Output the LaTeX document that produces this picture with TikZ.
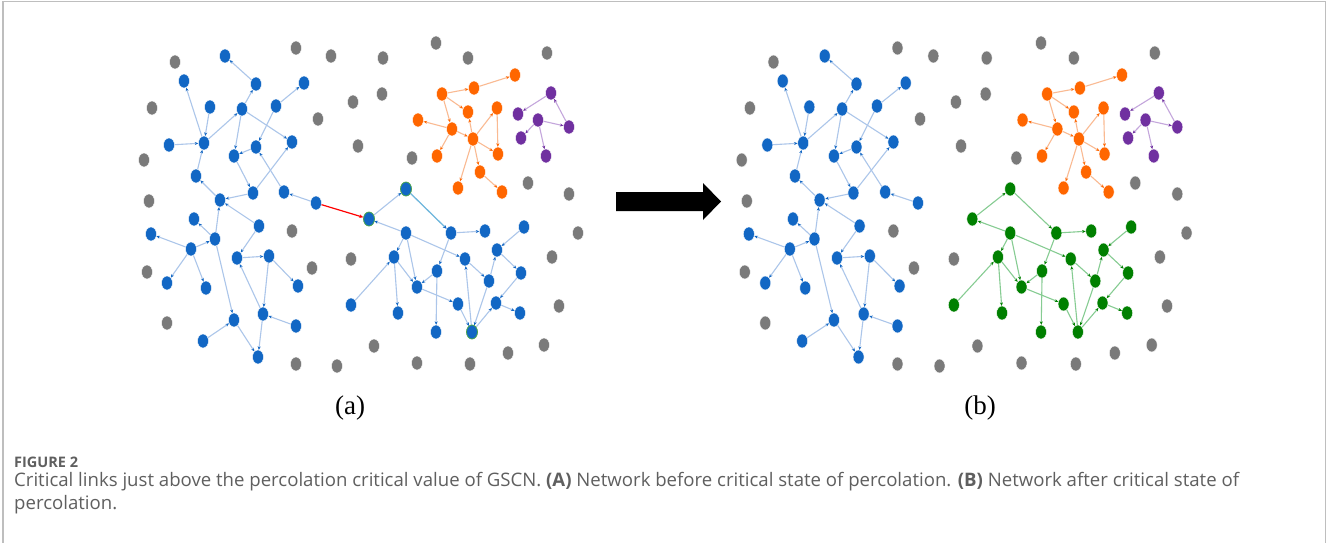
\documentclass[tikz,border=0pt]{standalone}
\usepackage{fontspec}
\setmainfont{Liberation Serif}
\newfontfamily\capfont{Open Sans}
\usetikzlibrary{shapes.geometric,arrows.meta}
\definecolor{nblue}{RGB}{18,103,196}
\definecolor{ngray}{RGB}{122,122,122}
\definecolor{norange}{RGB}{255,102,0}
\definecolor{npurple}{RGB}{112,48,160}
\definecolor{ngreen}{RGB}{0,128,0}
\definecolor{eblue}{RGB}{172,198,234}
\definecolor{ecyan}{RGB}{110,185,220}
\definecolor{eorange}{RGB}{250,186,146}
\definecolor{epurple}{RGB}{196,166,220}
\definecolor{egreen}{RGB}{134,204,146}
\definecolor{capgray}{RGB}{95,95,95}
\definecolor{framegray}{RGB}{190,190,190}
\tikzset{
  dot/.style={ellipse,minimum width=11pt,minimum height=14pt,inner sep=0pt,draw=white,line width=0.4pt},
  bnode/.style={dot,fill=nblue},
  gnode/.style={dot,fill=ngray},
  onode/.style={dot,fill=norange},
  pnode/.style={dot,fill=npurple},
  grnode/.style={dot,fill=ngreen},
  edgebase/.style={line width=1.1pt},
  bedge/.style={edgebase,draw=eblue,-{Stealth[length=3.5pt,width=3pt,color=nblue]}},
  cedge/.style={edgebase,draw=ecyan,-{Stealth[length=3.5pt,width=3pt,color=nblue]}},
  oedge/.style={edgebase,draw=eorange,-{Stealth[length=3.5pt,width=3pt,color=norange]}},
  pedge/.style={edgebase,draw=epurple,-{Stealth[length=3.5pt,width=3pt,color=npurple]}},
  gedge/.style={edgebase,draw=egreen,-{Stealth[length=3.5pt,width=3pt,color=ngreen]}},
  redge/.style={line width=1.2pt,draw=red,-{Stealth[length=4pt,width=3.5pt,color=red]}},
}
% common parts of each panel
\newcommand{\netgray}{%
  \foreach \x/\y [count=\i] in {175/62,296/48,331/56,152/108,318/119,144/160,149/201,292/231,147/272,312/268,167/323,296/364,337/366,351/259,383/58,436/43,468/58,547/53,353/102,382/94,358/146,412/158,528/183,569/194,578/233,552/257,559/306,374/346,544/345,508/353,417/363,470/364}
    \node[gnode] (g\i) at (\x,\y) {};}
\newcommand{\netleft}{%
  \foreach \n/\x/\y in {L1/225/56,L2/184/81,L3/256/84,L4/304/83,L5/210/107,L6/242/109,L7/276/106,L8/169/145,L9/204/143,L10/256/147,L11/292/142,L12/234/156,L13/196/176,L14/253/193,L15/284/192,L16/316/203,L17/220/200,L18/194/219,L19/259/226,L20/151/234,L21/215/239,L22/191/249,L23/237/258,L24/269/256,L25/167/283,L26/206/288,L27/298/286,L28/234/320,L29/263/314,L30/296/326,L31/203/341,L32/258/357}
    \node[bnode] (\n) at (\x,\y) {};
  \foreach \a/\b in {L3/L1,L9/L2,L5/L9,L8/L9,L9/L6,L6/L3,L6/L11,L6/L12,L7/L4,L7/L10,L10/L12,L12/L14,L14/L11,L15/L10,L16/L15,L14/L17,L13/L9,L17/L13,L21/L17,L21/L28,L19/L17,L19/L23,L23/L24,L24/L27,L24/L29,L29/L23,L30/L29,L29/L32,L28/L32,L31/L28,L22/L21,L22/L20,L22/L25,L22/L26,L21/L18}
    \draw[bedge] (\a) -- (\b);}
\newcommand{\netop}{%
  \foreach \n/\x/\y in {O1/515/75,O2/474/88,O3/442/94,O4/468/112,O5/497/108,O6/418/120,O7/452/129,O8/473/139,O9/437/156,O10/498/154,O11/480/172,O12/458/188,O13/502/192}
    \node[onode] (\n) at (\x,\y) {};
  \foreach \a/\b in {O3/O2,O2/O1,O3/O4,O3/O7,O8/O4,O7/O6,O7/O9,O7/O8,O8/O10,O8/O5,O5/O10,O8/O12,O8/O11,O11/O13}
    \draw[oedge] (\a) -- (\b);
  \foreach \n/\x/\y in {P1/551/93,P2/518/114,P3/538/120,P4/569/127,P5/521/138,P6/546/156}
    \node[pnode] (\n) at (\x,\y) {};
  \foreach \a/\b in {P1/P2,P4/P1,P3/P4,P3/P5,P3/P6}
    \draw[pedge] (\a) -- (\b);}
% right cluster: #1 node style, #2 edge style
\newcommand{\netright}[2]{%
  \foreach \n/\x/\y in {R1/406/189,R2/369/219,R3/406/233,R4/451/233,R5/485/231,R6/524/227,R7/394/257,R8/465/259,R9/497/250,R10/437/271,R11/417/287,R12/489/281,R13/521/273,R14/351/305,R15/398/313,R16/458/304,R17/496/303,R18/520/313,R19/436/332,R20/472/332}
    \node[#1] (\n) at (\x,\y) {};
  \foreach \a/\b in {R2/R1,R1/R4,R3/R2,R4/R5,R3/R7,R3/R11,R3/R8,R7/R11,R7/R15,R14/R7,R4/R10,R10/R11,R10/R19,R11/R16,R16/R20,R20/R8,R8/R12,R12/R20,R6/R9,R12/R9,R9/R13,R13/R17,R20/R17,R17/R18}
    \draw[#2] (\a) -- (\b);}
\begin{document}
\begin{tikzpicture}[x=1pt,y=-1pt]
\useasboundingbox (0,0) rectangle (1327,543);
\fill[white] (0,0) rectangle (1327,543);
% frame
\draw[framegray,line width=1.2pt] (3,545) -- (3,1.5) -- (1325.5,1.5) -- (1325.5,545);
% panel (a)
\begin{scope}
  \netgray
  \netleft
  \netop
  \netright{bnode}{bedge}
  \foreach \n in {R1,R2,R20} \node[bnode,draw=ngreen!70!white,line width=0.8pt] (h\n) at (\n) {};
  \draw[cedge] (hR1) -- (R4);
  \draw[redge] (L16) -- (hR2);
\end{scope}
% panel (b)
\begin{scope}[xshift=594.1pt,xscale=1.025,name prefix=b-]
  \netgray
  \netleft
  \netop
  \netright{grnode}{gedge}
\end{scope}
% big arrow
\fill[black] (616,192) coordinate (ar1) -- (703,192) -- (703,183) -- (721,201.5) -- (703,220) -- (703,211) -- (616,211) -- cycle;
% labels
\node[font=\fontsize{27}{30}\selectfont] (la) at (350,408) {(a)};
\node[font=\fontsize{27}{30}\selectfont] (lb) at (980,408) {(b)};
% caption
\node[anchor=west,inner sep=0pt,text=capgray,font=\capfont\bfseries\fontsize{14.5}{16}\selectfont] (fig) at (14,462) {FIGURE 2};
\node[anchor=west,inner sep=0pt,text=capgray,font=\capfont\fontsize{18.6}{22}\selectfont] (cap1) at (14,482) {Critical links just above the percolation critical value of GSCN. {\bfseries (A)} Network before critical state of percolation. {\bfseries (B)} Network after critical state of};
\node[anchor=west,inner sep=0pt,text=capgray,font=\capfont\fontsize{18.6}{22}\selectfont] (cap2) at (14,505) {percolation.};
\end{tikzpicture}
\end{document}
